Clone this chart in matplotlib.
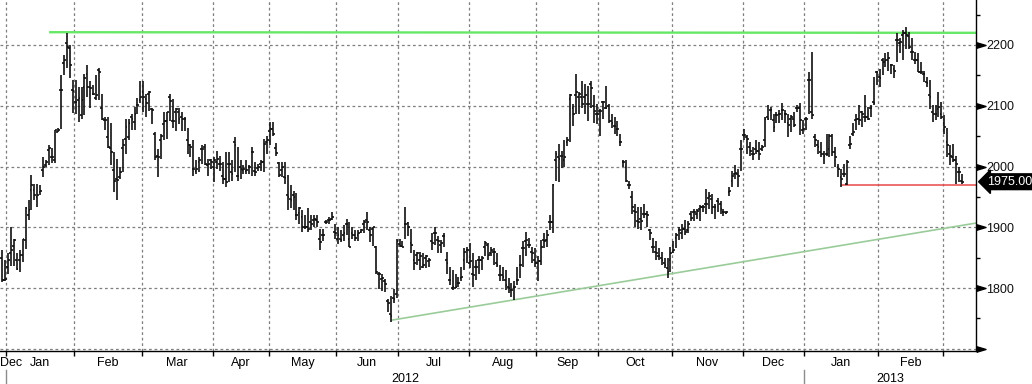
import matplotlib
matplotlib.use('Agg')
import numpy as np
import matplotlib.pyplot as plt
import matplotlib.transforms as mtransforms
from matplotlib.collections import LineCollection

plt.rcParams['font.family'] = ['Liberation Sans', 'DejaVu Sans']

# daily OHLC bars (Dec 2011 .. early Mar 2013)
opens = [
    1850, 1813, 1835, 1857, 1870, 1846, 1846, 1854, 1879, 1920, 1961, 1961, 1950, 1958, 1994, 2002,
    2027, 2016, 2010, 2057, 2126, 2170, 2203, 2195, 2126, 2107, 2109, 2085, 2131, 2153, 2131, 2120,
    2112, 2159, 2096, 2076, 2049, 2030, 1994, 1980, 1983, 2030, 2046, 2049, 2082, 2074, 2101, 2109,
    2122, 2111, 2120, 2095, 2054, 2018, 2044, 2070, 2075, 2114, 2075, 2090, 2089, 2081, 2078, 2043,
    2035, 1996, 1993, 2007, 2029, 2032, 2002, 2010, 2000, 2007, 2004, 1985, 1980, 2004, 1991, 2040,
    1985, 1999, 1995, 1993, 1999, 2024, 1993, 1997, 2004, 2007, 2040, 2059, 2062,
    2030, 2006, 1994, 1983, 1953, 1947, 1953, 1920, 1923, 1917, 1900, 1901, 1909, 1912, 1912, 1881,
    1887, 1909, 1912, 1914, 1892, 1881, 1881, 1887, 1906, 1881, 1890, 1887, 1887, 1892, 1906, 1912,
    1895, 1898, 1867, 1823, 1815, 1812, 1779, 1757, 1784, 1790, 1873, 1870, 1906, 1907,
    1874, 1846, 1855, 1846, 1835, 1849, 1844, 1877, 1890, 1879, 1871, 1885, 1846, 1814, 1800, 1800,
    1808, 1816, 1846, 1863, 1841, 1824, 1835, 1846, 1846, 1868, 1871, 1857, 1860, 1841, 1822, 1822,
    1814, 1802, 1797, 1802, 1814, 1838, 1866, 1877, 1871, 1860, 1846, 1841, 1844, 1879,
    1879, 1909, 1909, 2010, 2015, 2018, 2010, 2040, 2111, 2097, 2117, 2114, 2114, 2114, 2103, 2136,
    2100, 2086, 2092, 2106, 2097, 2100, 2075, 2067, 2062, 2040, 2008, 2000, 1969, 1950, 1927, 1911,
    1914, 1922, 1922, 1895, 1868, 1860, 1852, 1849, 1841, 1833, 1846, 1860, 1882, 1895,
    1890, 1898, 1895,
    1922, 1925, 1922, 1930, 1933, 1939, 1949, 1946, 1933, 1944, 1939, 1925, 1923, 1958, 1977, 1988,
    1988, 2029, 2052, 2049, 2032, 2021, 2029, 2026, 2029, 2043, 2082, 2093, 2076, 2085, 2087, 2093,
    2087, 2071, 2079, 2079, 2096, 2096, 2060, 2079, 2142, 2090, 2049, 2035, 2024, 2021, 2021,
    2029, 2051, 2024, 1999, 1982, 1988, 1971, 2035, 2054, 2076, 2079, 2090, 2082, 2082, 2096, 2106,
    2156, 2147, 2175, 2172, 2175, 2167, 2161, 2208, 2203, 2217, 2219, 2214, 2189, 2175, 2175, 2156,
    2153, 2139, 2117, 2090, 2087, 2095, 2087, 2071, 2040, 2021, 2015, 2010, 1991, 1977,
]
highs = [
    1862, 1846, 1857, 1900, 1881, 1857, 1862, 1881, 1934, 1945, 1986, 1972, 1972, 1969, 2016, 2010,
    2035, 2030, 2060, 2063, 2151, 2184, 2220, 2200, 2142, 2142, 2131, 2131, 2153, 2167, 2140, 2134,
    2151, 2162, 2120, 2082, 2082, 2071, 2024, 2013, 1999, 2046, 2079, 2079, 2087, 2098, 2112, 2140,
    2141, 2119, 2125, 2097, 2056, 2029, 2054, 2089, 2089, 2119, 2111, 2097, 2097, 2089, 2081, 2064,
    2037, 2043, 2010, 2016, 2035, 2037, 2013, 2013, 2016, 2026, 2018, 2007, 2024, 2024, 2010, 2048,
    2032, 2010, 2002, 2010, 2002, 2032, 2007, 2004, 2010, 2046, 2051, 2073, 2073,
    2039, 2008, 2008, 2008, 1986, 1970, 1959, 1956, 1934, 1928, 1920, 1931, 1920, 1920, 1920, 1898,
    1898, 1912, 1917, 1925, 1906, 1901, 1895, 1903, 1914, 1909, 1901, 1895, 1895, 1898, 1912, 1925,
    1901, 1901, 1870, 1826, 1823, 1815, 1782, 1787, 1798, 1881, 1881, 1878, 1934, 1909,
    1898, 1863, 1860, 1860, 1857, 1855, 1849, 1890, 1901, 1885, 1879, 1890, 1860, 1835, 1830, 1824,
    1819, 1835, 1866, 1868, 1874, 1857, 1846, 1852, 1852, 1877, 1874, 1868, 1866, 1857, 1838, 1835,
    1830, 1816, 1808, 1811, 1835, 1855, 1877, 1893, 1882, 1868, 1866, 1852, 1879, 1890,
    1895, 1920, 1972, 2026, 2037, 2026, 2043, 2048, 2119, 2103, 2152, 2122, 2141, 2136, 2133, 2141,
    2117, 2103, 2095, 2108, 2133, 2103, 2086, 2081, 2075, 2053, 2010, 2010, 1977, 1960, 1938, 1933,
    1933, 1938, 1927, 1898, 1882, 1877, 1866, 1860, 1849, 1849, 1868, 1877, 1890, 1901,
    1905, 1912, 1910,
    1927, 1930, 1930, 1936, 1936, 1963, 1958, 1955, 1939, 1949, 1944, 1930, 1927, 1966, 1993, 2002,
    1996, 2043, 2062, 2052, 2040, 2032, 2043, 2040, 2035, 2082, 2101, 2098, 2087, 2090, 2093, 2104,
    2093, 2087, 2085, 2090, 2101, 2104, 2076, 2082, 2156, 2189, 2054, 2043, 2040, 2026, 2054,
    2054, 2054, 2032, 2004, 1996, 2004, 2010, 2051, 2071, 2087, 2101, 2092, 2117, 2098, 2101, 2147,
    2158, 2161, 2178, 2186, 2189, 2169, 2167, 2219, 2211, 2225, 2230, 2222, 2211, 2189, 2186, 2172,
    2158, 2147, 2142, 2101, 2101, 2123, 2106, 2084, 2063, 2035, 2037, 2018, 1999, 1988,
]
lows = [
    1810, 1812, 1824, 1837, 1837, 1829, 1826, 1843, 1865, 1912, 1928, 1945, 1934, 1953, 1983, 1999,
    2002, 2005, 2005, 2057, 2062, 2151, 2162, 2145, 2088, 2087, 2074, 2079, 2085, 2115, 2097, 2118,
    2109, 2109, 2076, 2060, 2030, 2002, 1958, 1945, 1980, 1991, 2021, 2043, 2060, 2060, 2087, 2104,
    2089, 2081, 2092, 2070, 2010, 1982, 2013, 2043, 2046, 2075, 2064, 2059, 2070, 2059, 2059, 2021,
    2016, 1985, 1988, 1991, 2004, 2002, 1985, 1996, 1974, 1996, 1993, 1971, 1966, 1974, 1977, 1991,
    1977, 1980, 1988, 1988, 1988, 1985, 1985, 1993, 1993, 1991, 2021, 2035, 2051,
    2017, 1983, 1983, 1972, 1928, 1931, 1928, 1912, 1906, 1892, 1898, 1892, 1895, 1901, 1901, 1862,
    1878, 1906, 1906, 1912, 1881, 1873, 1876, 1878, 1887, 1867, 1881, 1878, 1878, 1890, 1890, 1895,
    1876, 1870, 1823, 1798, 1795, 1793, 1760, 1745, 1776, 1784, 1867, 1867, 1881, 1885,
    1857, 1830, 1838, 1830, 1833, 1833, 1835, 1863, 1871, 1857, 1857, 1868, 1824, 1805, 1797, 1800,
    1802, 1811, 1830, 1841, 1833, 1802, 1814, 1824, 1830, 1852, 1846, 1852, 1838, 1835, 1811, 1811,
    1797, 1792, 1786, 1781, 1805, 1816, 1835, 1852, 1866, 1841, 1835, 1811, 1838, 1866,
    1868, 1895, 1890, 1977, 1975, 1997, 2000, 2034, 2040, 2067, 2086, 2086, 2097, 2086, 2075, 2097,
    2072, 2070, 2051, 2078, 2095, 2072, 2064, 2053, 2051, 2034, 2000, 1975, 1963, 1922, 1901, 1898,
    1895, 1916, 1901, 1879, 1857, 1846, 1846, 1838, 1833, 1816, 1827, 1857, 1866, 1879,
    1880, 1888, 1890,
    1911, 1911, 1914, 1911, 1925, 1922, 1930, 1922, 1914, 1925, 1922, 1919, 1922, 1952, 1966, 1980,
    1966, 1993, 2043, 2021, 2018, 2010, 2021, 2010, 2026, 2032, 2076, 2076, 2057, 2071, 2071, 2076,
    2071, 2049, 2057, 2065, 2090, 2052, 2054, 2060, 2087, 2079, 2032, 2021, 2015, 2004, 2018,
    2015, 2018, 1999, 1982, 1966, 1982, 1969, 2029, 2051, 2060, 2068, 2065, 2074, 2076, 2082, 2101,
    2134, 2131, 2150, 2164, 2158, 2153, 2145, 2172, 2186, 2175, 2194, 2194, 2175, 2169, 2155, 2153,
    2139, 2131, 2095, 2074, 2076, 2082, 2079, 2054, 2015, 2002, 2007, 1971, 1974, 1971,
]
closes = [
    1813, 1815, 1846, 1862, 1879, 1832, 1854, 1880, 1931, 1928, 1969, 1953, 1953, 1960, 1999, 2008,
    2030, 2016, 2060, 2060, 2126, 2175, 2197, 2167, 2125, 2107, 2112, 2109, 2145, 2131, 2130, 2120,
    2118, 2156, 2079, 2077, 2032, 2024, 1977, 1978, 1991, 2035, 2065, 2071, 2079, 2087, 2101, 2115,
    2114, 2105, 2122, 2093, 2016, 2016, 2051, 2075, 2089, 2108, 2075, 2095, 2078, 2078, 2078, 2035,
    2032, 1996, 1996, 2010, 2029, 2004, 2004, 2007, 2010, 2013, 2004, 1980, 1974, 2004, 1988, 2035,
    1985, 1996, 1996, 1995, 2000, 2024, 1991, 1999, 2007, 2037, 2043, 2062, 2054,
    2022, 1986, 2000, 1981, 1950, 1945, 1950, 1920, 1931, 1900, 1901, 1898, 1906, 1914, 1909, 1876,
    1887, 1909, 1912, 1917, 1890, 1887, 1879, 1890, 1906, 1868, 1887, 1883, 1890, 1895, 1909, 1909,
    1887, 1901, 1826, 1823, 1817, 1806, 1776, 1754, 1782, 1878, 1870, 1867, 1906, 1901,
    1871, 1841, 1857, 1852, 1838, 1852, 1846, 1874, 1890, 1877, 1874, 1885, 1841, 1814, 1802, 1801,
    1808, 1819, 1860, 1863, 1844, 1822, 1835, 1846, 1849, 1874, 1855, 1863, 1860, 1838, 1822, 1819,
    1805, 1800, 1797, 1802, 1814, 1838, 1866, 1879, 1871, 1857, 1841, 1844, 1868, 1877,
    1887, 1909, 1969, 2021, 2013, 2018, 2015, 2043, 2117, 2086, 2122, 2119, 2103, 2117, 2103, 2130,
    2092, 2086, 2092, 2106, 2097, 2075, 2072, 2067, 2062, 2040, 2008, 1977, 1969, 1933, 1925, 1909,
    1911, 1922, 1920, 1890, 1868, 1857, 1852, 1846, 1838, 1827, 1857, 1863, 1887, 1895,
    1898, 1893, 1905,
    1916, 1925, 1927, 1933, 1933, 1939, 1952, 1933, 1933, 1941, 1930, 1925, 1925, 1960, 1985, 1990,
    1985, 2029, 2052, 2046, 2026, 2021, 2026, 2021, 2032, 2079, 2079, 2093, 2065, 2085, 2087, 2093,
    2087, 2068, 2082, 2068, 2096, 2076, 2062, 2079, 2142, 2085, 2043, 2032, 2021, 2018, 2021,
    2051, 2024, 2015, 1996, 1980, 1988, 2007, 2037, 2057, 2079, 2076, 2087, 2082, 2079, 2096, 2104,
    2156, 2145, 2172, 2175, 2178, 2167, 2158, 2208, 2205, 2219, 2217, 2197, 2189, 2175, 2156, 2156,
    2153, 2137, 2114, 2087, 2087, 2098, 2082, 2065, 2035, 2018, 2010, 2004, 1991, 1975,
]

# first bar of every month on the x axis
month_labels = ['Dec', 'Jan', 'Feb', 'Mar', 'Apr', 'May', 'Jun', 'Jul', 'Aug', 'Sep', 'Oct',
                'Nov', 'Dec', 'Jan', 'Feb', 'Mar']
month_first_bar = [0, 2, 25, 48, 72, 91, 114, 135, 159, 182, 203, 228, 252, 273, 298, 320]
year_labels = ['2012', '2013']
year_first_bar = [2, 273]

# drawn lines
resistance_bar, resistance_level = 16, 2221
support_bar, support_level = 285, 1969
trend_bar, trend_start, trend_end = 132, 1747, 1907
last_price = 1975.00

y_major = [1700, 1800, 1900, 2000, 2100, 2200]
y_minor = [1750, 1850, 1950, 2050, 2150, 2250]

n = len(closes)
x = np.arange(n)
x_left, x_right = -0.68, n - 1 + 4.75

fig = plt.figure(figsize=(10.32, 3.84), dpi=100)
ax = fig.add_axes([0, 33 / 384, 976 / 1032, 351 / 384])
ax.set_xlim(x_left, x_right)
ax.set_ylim(1696.5, 2274)

# grid
grid_kw = dict(color='#7f7f7f', lw=0.9, ls=(0, (2.2, 2.2)), zorder=1)
for b in month_first_bar[1:]:
    ax.axvline(b - 0.5, **grid_kw)
for v in y_major:
    ax.axhline(v, **grid_kw)

# OHLC bars
tk = 0.6
segs = [((i, l), (i, h)) for i, l, h in zip(x, lows, highs)]
segs += [((i - tk, o), (i, o)) for i, o in zip(x, opens)]
segs += [((i, c), (i + tk, c)) for i, c in zip(x, closes)]
ax.add_collection(LineCollection(segs, colors='#111111', linewidths=1.2, zorder=3))

# drawn lines
ax.plot([resistance_bar, x_right], [resistance_level, resistance_level - 1],
        color='#66e866', lw=1.7, zorder=2, solid_capstyle='butt')
ax.plot([support_bar, x_right], [support_level, support_level],
        color='#e8484a', lw=1.1, zorder=2, solid_capstyle='butt')
ax.plot([trend_bar, x_right], [trend_start, trend_end],
        color='#9acc9a', lw=1.2, zorder=2, solid_capstyle='butt')

# spines
for s in ['top', 'left']:
    ax.spines[s].set_visible(False)
ax.spines['right'].set_linewidth(1.0)
ax.spines['bottom'].set_linewidth(1.0)

# y axis on the right
ax.yaxis.tick_right()
ax.set_yticks(y_major)
ax.set_yticklabels(['' if v == 1700 else str(v) for v in y_major])
ax.set_yticks(y_minor, minor=True)
ax.tick_params(axis='y', which='major', length=0, pad=7.5, labelsize=9, labelcolor='#111111')
ax.tick_params(axis='y', which='minor', length=3, width=1, direction='out', color='black')
tri = [(-1, -0.6), (1, 0), (-1, 0.6), (-1, -0.6)]
yt = mtransforms.blended_transform_factory(ax.transAxes, ax.transData)
ax.plot([1 + 4.5 / 976] * len(y_major), y_major, transform=yt, ls='none',
        marker=tri, ms=6.5, color='black', clip_on=False, zorder=5)

# last price tag
ax.text(1 + 11 / 976, last_price, f'{last_price:.2f}', transform=yt, color='white',
        fontsize=9, ha='left', va='center', clip_on=False, zorder=6,
        bbox=dict(boxstyle='larrow,pad=0.15', fc='black', ec='black'))

# x axis: ticks at month starts, labels centred in each month
ax.set_xticks([b - 0.5 for b in month_first_bar[1:]])
ax.tick_params(axis='x', length=3.5, width=1, direction='out', labelbottom=False)
xt = mtransforms.blended_transform_factory(ax.transData, ax.transAxes)
ax.text(0, -0.034, month_labels[0], transform=ax.transAxes, ha='left', va='center', fontsize=9)
for i in range(1, len(month_labels) - 1):
    cx = (month_first_bar[i] + month_first_bar[i + 1]) / 2 - 0.5
    ax.text(cx, -0.034, month_labels[i], transform=xt, ha='center', va='center', fontsize=9)

year_edges = [b - 0.5 for b in year_first_bar] + [x_right]
for i, lab in enumerate(year_labels):
    cx = (year_edges[i] + year_edges[i + 1]) / 2
    ax.text(cx, -0.08, lab, transform=xt, ha='center', va='center', fontsize=9)
    ax.plot([year_edges[i]] * 2, [-0.055, -0.1], transform=xt, color='#8c8c8c',
            lw=1, clip_on=False)

fig.savefig('out.png', dpi=100)
